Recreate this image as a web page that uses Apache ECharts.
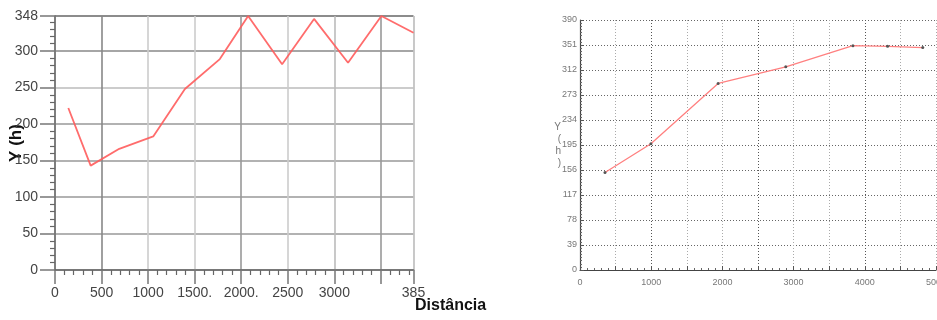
<!DOCTYPE html>
<html>
<head>
<meta charset="utf-8">
<script src="https://cdn.jsdelivr.net/npm/echarts@6/dist/echarts.min.js"></script>
<style>
html, body { margin: 0; padding: 0; background: #fff; }
#chart { width: 937px; height: 320px; }
</style>
</head>
<body>
<div id="chart"></div>
<script>
// left panel: Y (h) against Distância
const leftDistance = [143, 383, 690, 1055, 1395, 1770, 2074, 2439, 2782, 3147, 3505, 3850]
const leftHours = [222, 143, 166, 183, 248, 289, 348, 282, 344, 284, 348, 325]
const leftXTicks = [0, 500, 1000, 1500, 2000, 2500, 3000, 3500, 3850]
const leftXTickLabels = ['0', '500', '1000', '1500.', '2000.', '2500', '3000', '', '385']

// right panel
const rightDistance = [351, 996, 1940, 2890, 3833, 4320, 4814]
const rightHours = [152, 197, 291, 317, 350, 349, 347]
const rightYTicks = [0, 39, 78, 117, 156, 195, 234, 273, 312, 351, 390]

const chart = echarts.init(document.getElementById('chart'))

const pairs = (xs, ys) => xs.map((x, i) => [x, ys[i]])

chart.setOption({
  animation: false,
  grid: [
    { left: 55, top: 16, width: 358.5, height: 254, containLabel: false, outerBoundsMode: 'none' },
    { left: 580, top: 20, width: 356, height: 250, containLabel: false, outerBoundsMode: 'none' }
  ],
  xAxis: [
    {
      gridIndex: 0,
      type: 'value',
      min: 0,
      max: 3850,
      interval: 500,
      axisLine: { lineStyle: { color: '#666', width: 1.5 } },
      axisTick: { length: 14, lineStyle: { color: '#777', width: 1.5 } },
      minorTick: { show: true, splitNumber: 5, length: 5, lineStyle: { color: '#666', width: 1.2 } },
      axisLabel: {
        margin: 16,
        color: '#444',
        fontFamily: 'Liberation Sans',
        fontSize: 14,
        showMaxLabel: true,
        hideOverlap: false,
        formatter: v => {
          const i = leftXTicks.indexOf(v)
          return i >= 0 ? leftXTickLabels[i] : ''
        }
      },
      splitLine: {
        show: true,
        lineStyle: {
          width: 1.6,
          color: ['#bbb', '#888', '#ccc', '#ccc', '#999', '#ccc', '#bbb', '#999', '#bbb']
        }
      }
    },
    {
      gridIndex: 1,
      type: 'value',
      min: 0,
      max: 5000,
      interval: 500,
      axisLine: { lineStyle: { color: '#444', width: 1.2 } },
      axisTick: { inside: true, length: 4, lineStyle: { color: '#555' } },
      minorTick: { show: true, splitNumber: 5, length: 2, lineStyle: { color: '#666' } },
      axisLabel: {
        margin: 8,
        color: '#777',
        fontFamily: 'Liberation Sans',
        fontSize: 9,
        showMaxLabel: true,
        hideOverlap: false,
        formatter: v => (v % 1000 === 0 ? String(v) : '')
      },
      splitLine: {
        show: true,
        lineStyle: { type: [1, 2], width: 1, color: ['#aaa', '#aaa', '#555'] }
      }
    }
  ],
  yAxis: [
    {
      gridIndex: 0,
      type: 'value',
      min: 0,
      max: 348,
      interval: 50,
      name: 'Y (h)',
      nameLocation: 'middle',
      nameGap: 30,
      nameMoveOverlap: false,
      nameTextStyle: { color: '#111', fontFamily: 'Liberation Sans', fontSize: 17, fontWeight: 'bold' },
      axisLine: { show: true, lineStyle: { color: '#666', width: 1.5 } },
      axisTick: { show: true, length: 15, lineStyle: { color: '#777', width: 1.5 } },
      minorTick: { show: true, splitNumber: 5, length: 5, lineStyle: { color: '#666', width: 1.2 } },
      axisLabel: {
        margin: 17,
        color: '#444',
        fontFamily: 'Liberation Sans',
        fontSize: 14,
        showMaxLabel: true
      },
      splitLine: {
        lineStyle: {
          width: 1.6,
          color: ['#999', '#999', '#999', '#999', '#999', '#bbb', '#888', '#666']
        }
      }
    },
    {
      gridIndex: 1,
      type: 'value',
      min: 0,
      max: 390,
      interval: 39,
      name: 'Y\n(\nh\n)',
      nameLocation: 'middle',
      nameRotate: 0,
      nameGap: 19,
      nameMoveOverlap: false,
      nameTextStyle: { color: '#777', fontFamily: 'Liberation Sans', fontSize: 10, lineHeight: 12 },
      axisLine: { show: true, lineStyle: { color: '#444', width: 1.2 } },
      axisTick: { show: true, inside: true, length: 4, lineStyle: { color: '#555' } },
      minorTick: { show: true, splitNumber: 8, length: 2, lineStyle: { color: '#666' } },
      axisLabel: {
        margin: 3,
        color: '#777',
        fontFamily: 'Liberation Sans',
        fontSize: 9,
        showMaxLabel: true,
        formatter: v => (rightYTicks.includes(v) ? String(v) : '')
      },
      splitLine: {
        lineStyle: { type: [1, 2], width: 1, color: '#666' }
      }
    }
  ],
  graphic: [
    {
      type: 'text',
      left: 415,
      top: 298,
      style: {
        text: 'Distância',
        fill: '#111',
        font: 'bold 16px "Liberation Sans"'
      }
    }
  ],
  series: [
    {
      type: 'line',
      xAxisIndex: 0,
      yAxisIndex: 0,
      data: pairs(leftDistance, leftHours),
      symbol: 'none',
      lineStyle: { color: '#ff5c5c', width: 1.8, opacity: 0.9 }
    },
    {
      type: 'line',
      xAxisIndex: 1,
      yAxisIndex: 1,
      data: pairs(rightDistance, rightHours),
      symbol: 'circle',
      symbolSize: 3,
      itemStyle: { color: '#555' },
      lineStyle: { color: '#ff8080', width: 1.3 }
    }
  ]
})
</script>
</body>
</html>
